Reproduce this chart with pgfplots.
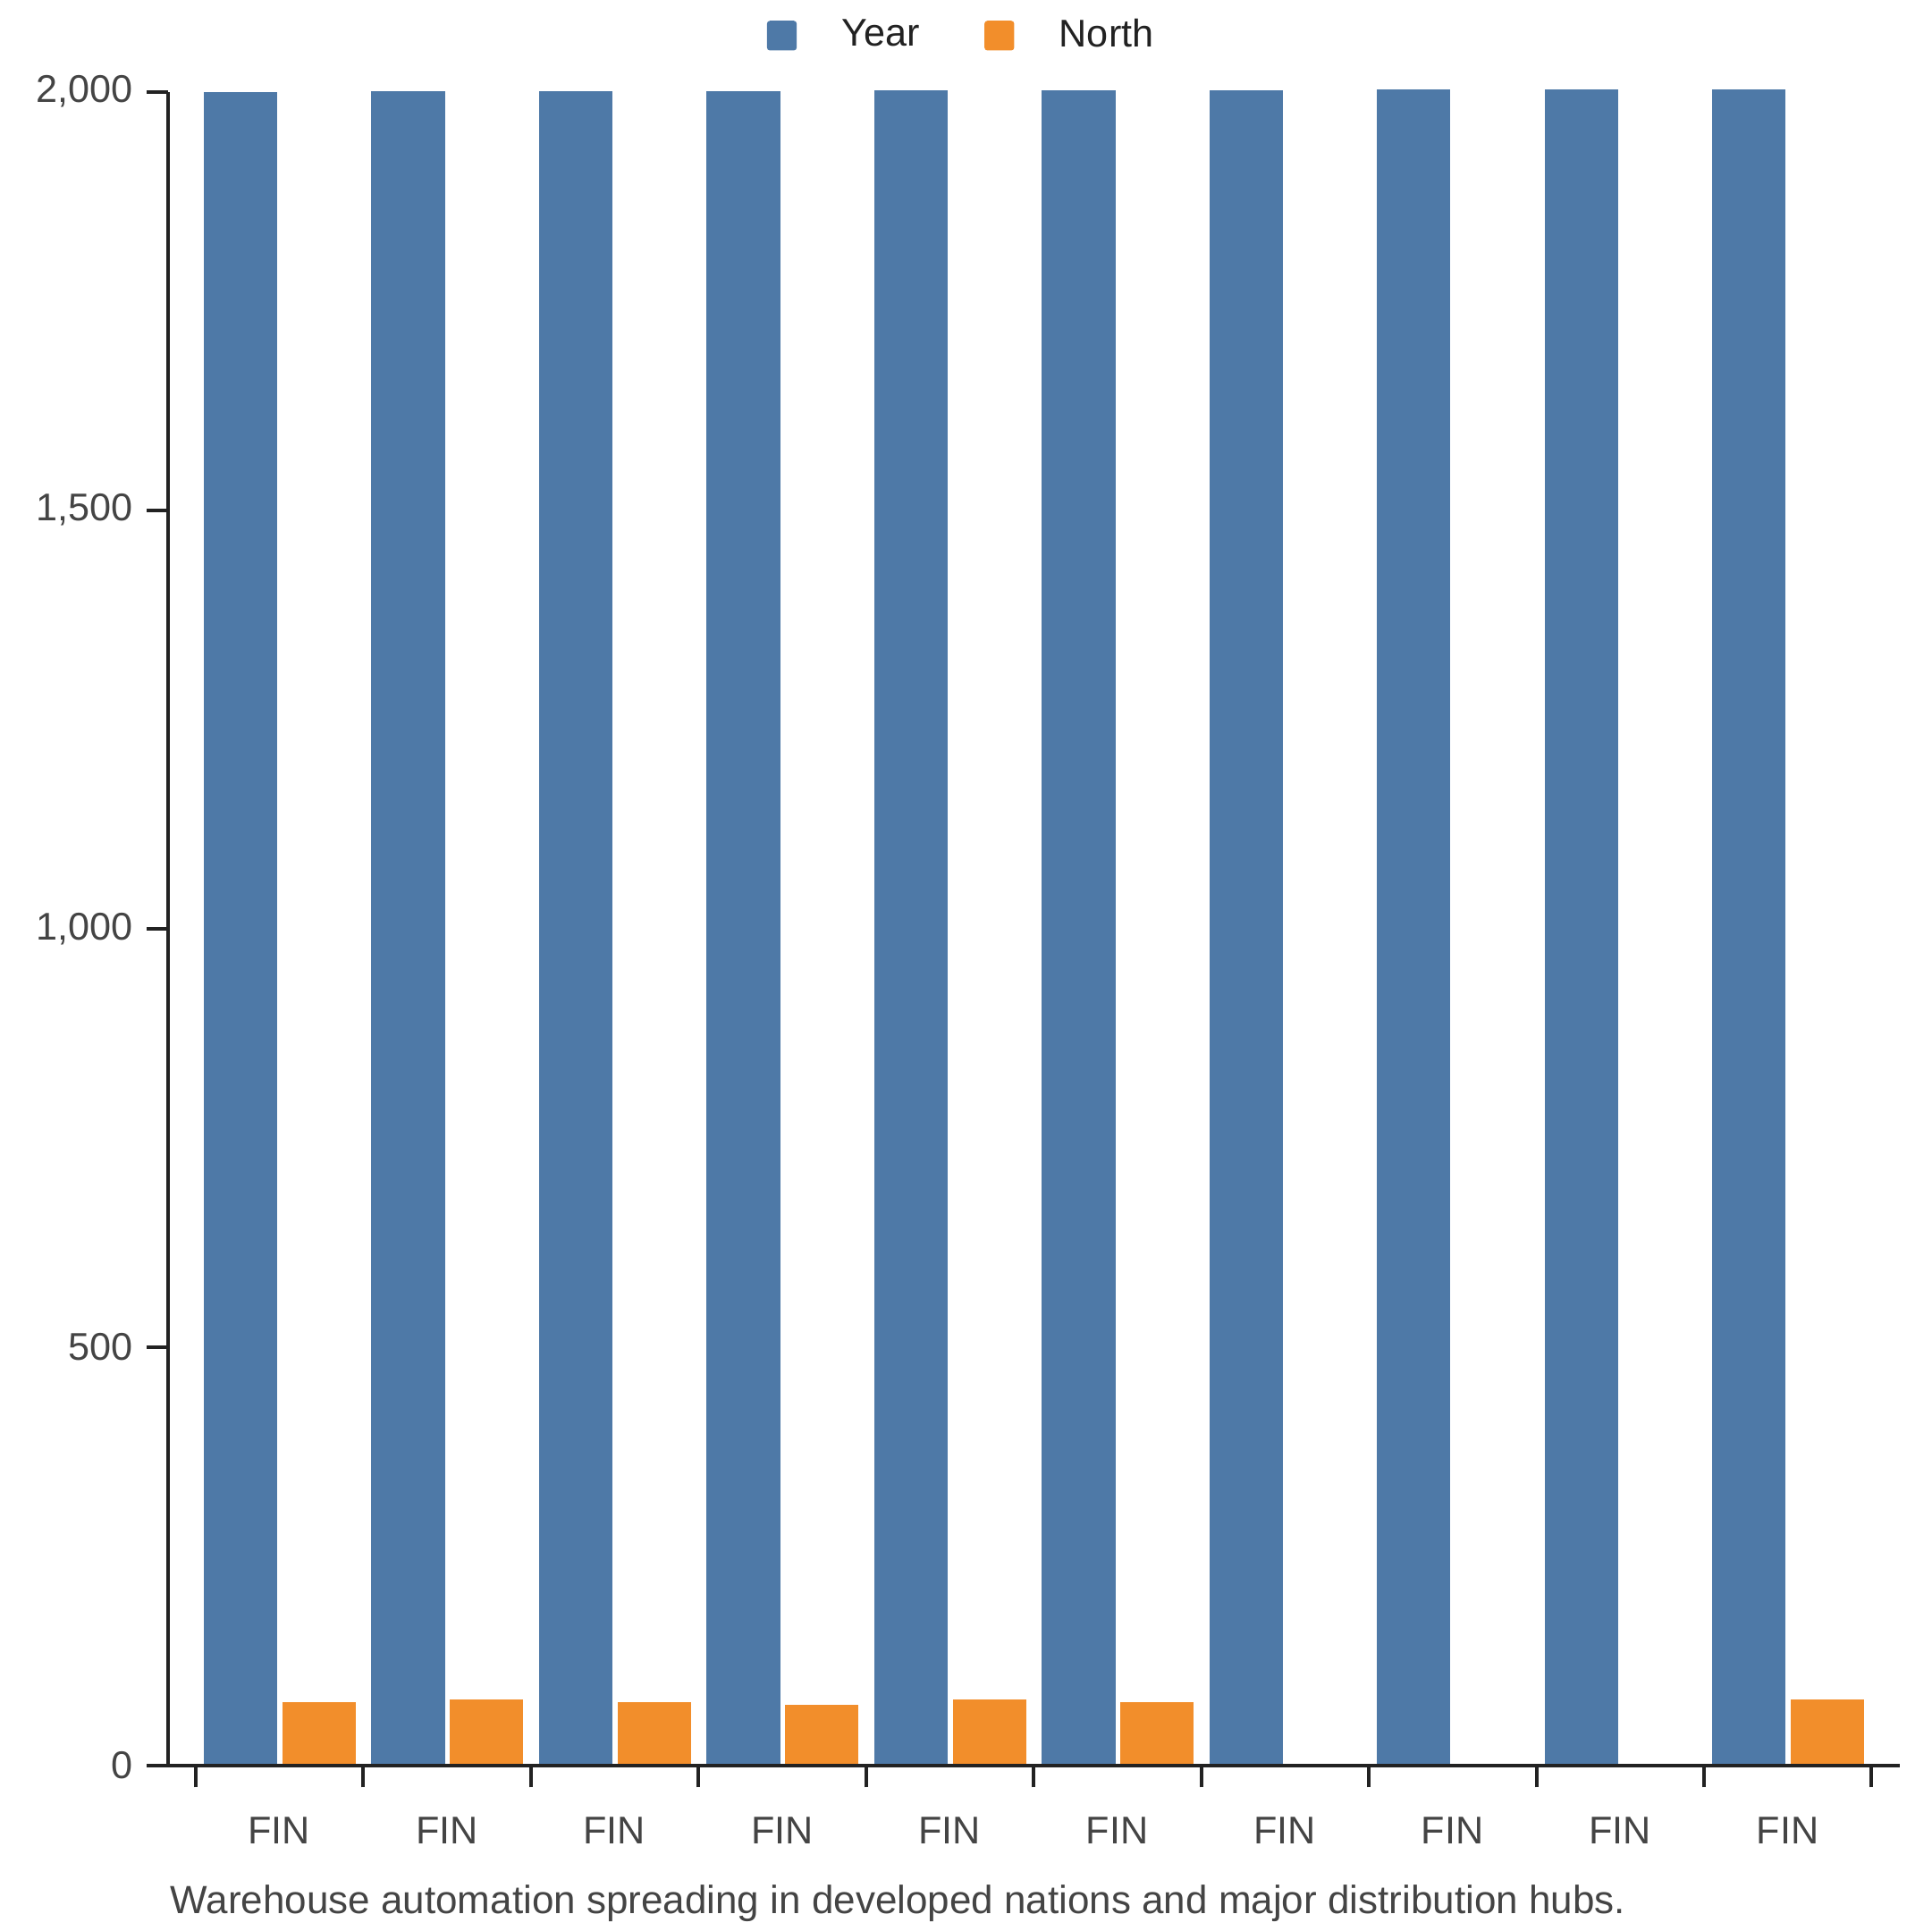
\documentclass[border=0pt]{standalone}
\usepackage{fontspec}
\setmainfont{Liberation Sans}
\usepackage{pgfplots}
\pgfplotsset{compat=1.18}
\definecolor{cblue}{HTML}{4E79A7}
\definecolor{corange}{HTML}{F28E2B}
\definecolor{axcol}{HTML}{222222}
\definecolor{txt}{HTML}{444444}
\begin{document}
\fontsize{10.8}{13}\selectfont
\begin{tikzpicture}
\path[use as bounding box] (0,0) rectangle (540pt,540pt);
\begin{axis}[
  at={(47.1pt,46.25pt)}, anchor=south west, scale only axis,
  width=484.1pt, height=468.1pt,
  xmin=-0.661, xmax=9.667, ymin=0, ymax=2000,
  clip=false, axis on top,
  axis x line=bottom, axis y line=left,
  x axis line style={-, line width=1pt, color=axcol},
  y axis line style={-, line width=1pt, color=axcol},
  tick style={line width=1pt, color=axcol},
  tick align=outside,
  major tick length=6.1pt,
  xtick={-0.5,0.5,1.5,2.5,3.5,4.5,5.5,6.5,7.5,8.5,9.5},
  xticklabels={{},{},{},{},{},{},{},{},{},{},{}},
  extra x ticks={0,1,2,3,4,5,6,7,8,9},
  extra x tick labels={FIN,FIN,FIN,FIN,FIN,FIN,FIN,FIN,FIN,FIN},
  extra x tick style={major tick length=0pt, tick label style={yshift=-10.7pt}},
  ytick={0,500,1000,1500,2000},
  /pgf/number format/assume math mode=true,
  /pgf/number format/1000 sep={,},
  tick label style={font=\fontsize{10.8}{13}\selectfont, text=txt},
  ybar, bar width=0.444,
  legend style={at={(0.4595,1.0335)}, anchor=center, draw=none, fill=none,
    legend columns=2, font=\fontsize{10.8}{13}\selectfont, text=axcol,
    /tikz/every odd column/.append style={column sep=10.6pt},
    /tikz/every even column/.append style={column sep=16.1pt}},
  legend image code/.code={\fill[#1, draw=none, rounded corners=0.8pt] (0pt,-4.15pt) rectangle (8.3pt,4.15pt);},
]
\addplot[fill=cblue, draw=white, line width=0.3pt, bar shift=-0.231] coordinates {
(0,2000) (1,2001) (2,2001) (3,2001) (4,2002) (5,2002) (6,2002) (7,2003) (8,2003) (9,2003)};
\addlegendentry{Year}
\addplot[fill=corange, draw=white, line width=0.3pt, bar shift=0.237] coordinates {
(0,76) (1,80) (2,76) (3,73) (4,80) (5,77) (9,80)};
\addlegendentry{North}
\end{axis}
\node[anchor=base west, text=txt, inner sep=0pt, font=\fontsize{11}{13}\selectfont] at (47.5pt,5pt) {Warehouse automation spreading in developed nations and major distribution hubs.};
\end{tikzpicture}
\end{document}
